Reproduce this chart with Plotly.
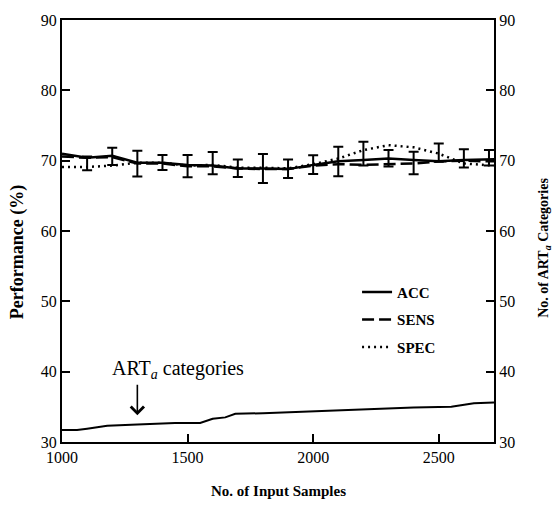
import plotly.graph_objects as go

# ---------------- data ----------------
samples = [1000, 1100, 1200, 1300, 1400, 1500, 1600, 1700, 1800, 1900,
           2000, 2100, 2200, 2300, 2400, 2500, 2600, 2700, 2720]
acc = [71.0, 70.4, 70.7, 69.7, 69.7, 69.4, 69.3, 68.9, 68.9, 68.8,
       69.4, 69.9, 70.1, 70.3, 70.1, 69.9, 70.1, 70.2, 70.2]
sens = [70.6, 70.4, 70.5, 69.6, 69.6, 69.2, 69.2, 68.9, 68.8, 68.8,
        69.3, 69.5, 69.4, 69.5, 69.6, 69.9, 70.0, 69.9, 69.9]
spec = [69.1, 69.1, 69.3, 69.7, 69.7, 69.3, 69.4, 69.0, 69.0, 68.9,
        69.5, 70.3, 71.5, 72.2, 71.9, 71.0, 69.6, 69.4, 69.3]

err_x = [1100, 1200, 1300, 1400, 1500, 1600, 1700, 1800, 1900,
         2000, 2100, 2200, 2300, 2400, 2500, 2600, 2700]
err_center = [69.63, 70.61, 69.59, 69.74, 69.22, 69.65, 68.92, 68.88, 68.85,
              69.45, 69.87, 71.0, 70.33, 69.68, 71.15, 70.33, 70.40]
err_size = [0.98, 1.22, 1.83, 1.05, 1.57, 1.57, 1.26, 2.06, 1.33,
            1.33, 2.10, 1.70, 1.17, 1.60, 1.29, 1.31, 1.10]

art_x = [1000, 1060, 1100, 1180, 1300, 1450, 1550, 1600, 1650, 1690,
         1800, 2000, 2200, 2400, 2550, 2600, 2640, 2720]
art_cat = [31.7, 31.7, 31.9, 32.3, 32.5, 32.7, 32.7, 33.3, 33.5, 34.0,
           34.1, 34.4, 34.7, 34.9, 35.0, 35.3, 35.5, 35.6]

x_ticks = [1000, 1500, 2000, 2500]
y_ticks = [30, 40, 50, 60, 70, 80, 90]
x_range = [1000, 2720]
y_range = [30, 90]

arrow_x = 1300
arrow_tip = 33.8

SERIF = "Liberation Serif"

fig = go.Figure()

fig.add_trace(go.Scatter(x=samples, y=acc, mode="lines", name="<b>ACC</b>",
                         line=dict(color="black", width=2.5), legendgroup="a"))
fig.add_trace(go.Scatter(x=samples, y=sens, mode="lines", name="<b>SENS</b>",
                         line=dict(color="black", width=2.5, dash="12px,5px"),
                         legendgroup="b"))
fig.add_trace(go.Scatter(x=samples, y=spec, mode="lines", name="<b>SPEC</b>",
                         line=dict(color="black", width=2.5, dash="2px,4px"),
                         legendgroup="c"))
fig.add_trace(go.Scatter(x=err_x, y=err_center, mode="markers", showlegend=False,
                         marker=dict(color="rgba(0,0,0,0)", size=2),
                         error_y=dict(type="data", array=err_size, visible=True,
                                      color="black", thickness=2, width=5)))
fig.add_trace(go.Scatter(x=art_x, y=art_cat, mode="lines", showlegend=False,
                         yaxis="y2", line=dict(color="black", width=2)))

axis_common = dict(showgrid=False, zeroline=False, showline=True, linecolor="black",
                   linewidth=2, ticks="inside", ticklen=8, tickwidth=1.5,
                   tickcolor="black", tickfont=dict(family=SERIF, size=16, color="black"))

fig.update_layout(
    width=560, height=506,
    margin=dict(l=62, r=66, t=15, b=64),
    paper_bgcolor="white", plot_bgcolor="white",
    xaxis=dict(range=x_range, tickvals=x_ticks, mirror=True, **axis_common),
    yaxis=dict(range=y_range, tickvals=y_ticks, **axis_common),
    yaxis2=dict(range=y_range, tickvals=y_ticks, overlaying="y", side="right",
                **axis_common),
    legend=dict(x=0.683, y=0.394, xanchor="left", yanchor="top",
                bgcolor="rgba(0,0,0,0)", tracegroupgap=5,
                font=dict(family=SERIF, size=15, color="black")),
    showlegend=True,
)

fig.add_annotation(text="<b>No. of Input Samples</b>", xref="paper", yref="paper",
                   x=0.5, y=-0.115, xanchor="center", yanchor="middle", showarrow=False,
                   font=dict(family=SERIF, size=15, color="black"))
fig.add_annotation(text="<b>Performance (%)</b>", xref="paper", yref="paper",
                   x=-0.104, y=0.45, xanchor="center", yanchor="middle", showarrow=False,
                   textangle=-90, font=dict(family=SERIF, size=18, color="black"))
fig.add_annotation(text="<b>No. of ART<sub><i>a</i></sub> Categories</b>",
                   xref="paper", yref="paper",
                   x=1.118, y=0.46, xanchor="center", yanchor="middle", showarrow=False,
                   textangle=-90, font=dict(family=SERIF, size=14, color="black"))
fig.add_annotation(text="ART<sub><i>a</i></sub> categories", xref="x", yref="y",
                   x=1460, y=40.3, xanchor="center", yanchor="middle", showarrow=False,
                   font=dict(family=SERIF, size=20, color="black"))
fig.add_annotation(x=arrow_x, y=arrow_tip, xref="x", yref="y", ax=0, ay=-32,
                   text="", showarrow=True, arrowhead=4, arrowsize=1.6,
                   arrowwidth=1.6, arrowcolor="black")

fig.write_html("out.html")
